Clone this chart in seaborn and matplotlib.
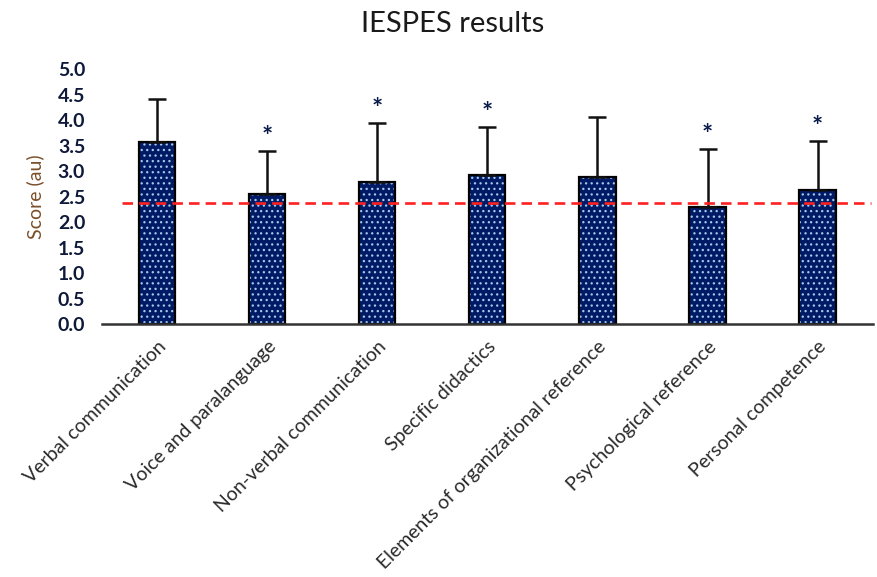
import numpy as np
import pandas as pd
import matplotlib
matplotlib.use("Agg")
import matplotlib.pyplot as plt
import seaborn as sns
from matplotlib.colors import to_rgba

domains = [
    "Verbal communication",
    "Voice and paralanguage",
    "Non-verbal communication",
    "Specific didactics",
    "Elements of organizational reference",
    "Psychological reference",
    "Personal competence",
]
means = [3.57, 2.55, 2.78, 2.92, 2.89, 2.30, 2.62]
sds = [0.84, 0.85, 1.17, 0.95, 1.17, 1.13, 0.97]
significant = [False, True, True, True, False, True, True]
reference_score = 2.37

sns.set_theme(style="white")
plt.rcParams["font.family"] = ["Lato", "DejaVu Sans"]
plt.rcParams["hatch.linewidth"] = 0.9

df = pd.DataFrame({"domain": domains, "score": means})

fig = plt.figure(figsize=(8.78, 5.77), dpi=100)
ax = fig.add_axes([0.116, 0.4385, 0.878, 0.4415])

sns.barplot(data=df, x="domain", y="score", order=domains, color="#001a66",
            width=0.33, errorbar=None, ax=ax, saturation=1)

dot_color = to_rgba("#a4c8ea")
centers = []
for p in ax.patches:
    p.set_hatch("...")
    p.set_edgecolor("black")
    p.set_linewidth(1.6)
    p._hatch_color = dot_color
    centers.append(p.get_x() + p.get_width() / 2)

ax.errorbar(centers, means, yerr=[np.zeros(len(sds)), sds], fmt="none",
            ecolor="#111111", elinewidth=1.8, capsize=6.5, capthick=1.8, zorder=1)

for x, m, s, sig in zip(centers, means, sds, significant):
    if sig:
        ax.text(x, m + s + 0.27, "*", ha="center", va="center", fontsize=19,
                color="#0a1a4a", fontweight="bold")

ax.plot([-0.32, 6.48], [reference_score, reference_score], color="#ff2020",
        lw=1.9, dashes=(4, 2.3), zorder=4)

ax.set_xlim(-0.5, 6.5)
ax.set_ylim(0, 5.0)
ticks = np.arange(0, 5.01, 0.5)
ax.set_yticks(ticks)
ax.set_yticklabels([f"{v:.1f}" for v in ticks],
                   fontsize=14, fontweight="bold", color="#0f1a3a")
ax.set_xticks(range(len(domains)))
ax.set_xticklabels(domains, rotation=45, ha="right", rotation_mode="anchor",
                   fontsize=14, color="#2a2a2a")
ax.tick_params(axis="y", length=0, pad=12)
ax.tick_params(axis="x", length=0, pad=10)
ax.set_xlabel("")
ax.set_ylabel("Score (au)", fontsize=14, color="#7a4f2a", labelpad=10)
for side in ["left", "right", "top"]:
    ax.spines[side].set_visible(False)
ax.spines["bottom"].set_color("#333333")
ax.spines["bottom"].set_linewidth(1.8)

fig.text(0.515, 0.958, "IESPES results", ha="center", va="center",
         fontsize=21, color="#1a1a1a")

fig.savefig("out.png", dpi=100)
